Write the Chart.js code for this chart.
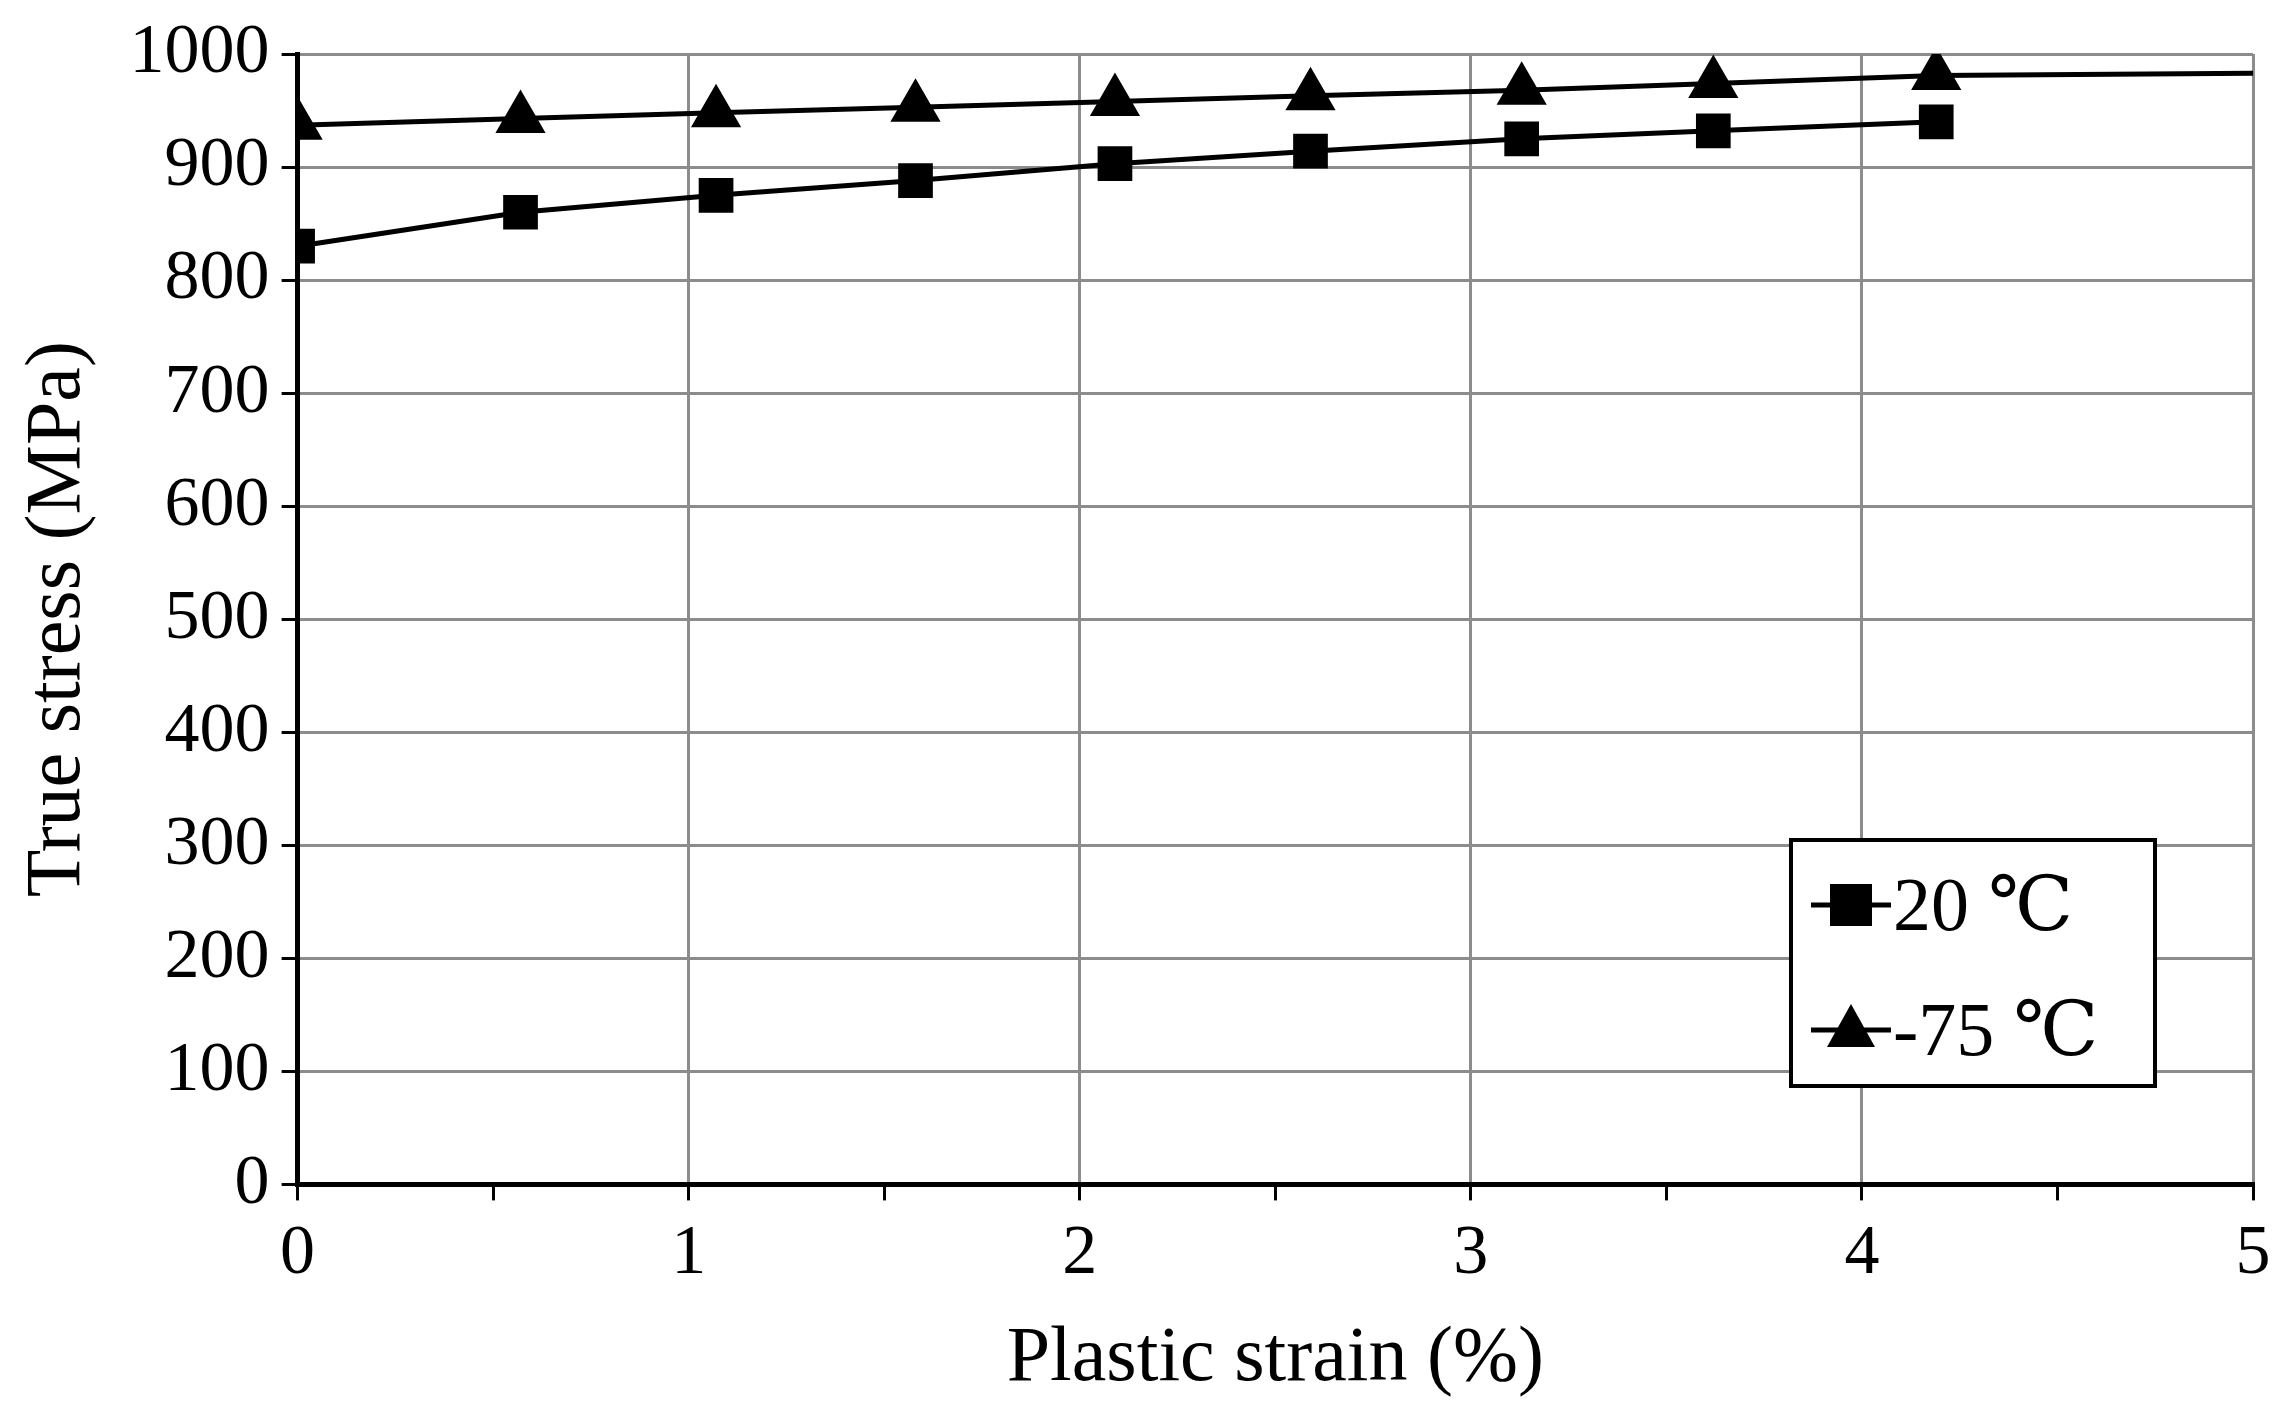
<!DOCTYPE html>
<html>
<head>
<meta charset="utf-8">
<style>
  html, body { margin: 0; padding: 0; background: #fff; }
  #wrap { width: 2283px; height: 1406px; }
</style>
<script src="https://cdn.jsdelivr.net/npm/chart.js@4/dist/chart.umd.min.js"></script>
</head>
<body>
<div id="wrap"><canvas id="myChart" width="2283" height="1406"></canvas></div>
<script>
const strain20 = [0, 0.57, 1.07, 1.58, 2.09, 2.59, 3.13, 3.62, 4.19];
const stress20 = [830, 860, 875, 888, 903, 914, 925, 932, 940];
const strain75 = [0, 0.57, 1.07, 1.58, 2.09, 2.59, 3.13, 3.62, 4.19, 5];
const stress75 = [937, 943, 948, 953, 958, 963, 968, 974, 981, 983];
const seriesLabels = ['20 \u2103', '-75 \u2103'];

const FONT = '"Liberation Serif", "DejaVu Serif", serif';

const pts = (xs, ys) => xs.map((x, i) => ({ x: x, y: ys[i] }));

const legendBox = {
    id: 'legendBox',
    afterDraw(chart) {
        const ctx = chart.ctx;
        const x0 = 1791, y0 = 840, w = 364, h = 246;
        ctx.save();
        ctx.fillStyle = '#fff';
        ctx.fillRect(x0, y0, w, h);
        ctx.strokeStyle = '#000';
        ctx.lineWidth = 4;
        ctx.strokeRect(x0, y0, w, h);
        const rows = [y0 + 65, y0 + 190];
        rows.forEach((yy, i) => {
            ctx.beginPath();
            ctx.lineWidth = 5;
            ctx.moveTo(x0 + 20, yy);
            ctx.lineTo(x0 + 100, yy);
            ctx.stroke();
            ctx.fillStyle = '#000';
            const cx = x0 + 60;
            if (i === 0) {
                ctx.fillRect(cx - 21, yy - 21, 42, 42);
            } else {
                ctx.beginPath();
                ctx.moveTo(cx, yy - 26);
                ctx.lineTo(cx + 24, yy + 17);
                ctx.lineTo(cx - 24, yy + 17);
                ctx.closePath();
                ctx.fill();
            }
            ctx.font = '76px ' + FONT;
            ctx.textBaseline = 'middle';
            ctx.fillText(seriesLabels[i], x0 + 102, yy + 5);
        });
        ctx.restore();
    }
};

const gridColor = c => (Math.abs(c.tick.value % 100) < 1e-6 ? '#8c8c8c' : 'rgba(0,0,0,0)');
const gridColorX = c => (Math.abs(c.tick.value % 1) < 1e-6 ? '#8c8c8c' : 'rgba(0,0,0,0)');

new Chart(document.getElementById('myChart'), {
    type: 'line',
    data: {
        datasets: [{
            label: seriesLabels[0],
            data: pts(strain20, stress20),
            borderColor: '#000',
            backgroundColor: '#000',
            borderWidth: 5,
            pointStyle: 'rect',
            pointRadius: 21,
            tension: 0
        }, {
            label: seriesLabels[1],
            data: pts(strain75, stress75),
            borderColor: '#000',
            backgroundColor: '#000',
            borderWidth: 5,
            pointStyle: 'triangle',
            pointRadius: strain75.map(x => (x === 5 ? 0 : 24)),
            tension: 0
        }]
    },
    options: {
        responsive: false,
        animation: false,
        layout: { padding: { left: 8, right: 30, top: 28, bottom: 0 } },
        plugins: { legend: { display: false }, tooltip: { enabled: false } },
        scales: {
            x: {
                type: 'linear',
                min: 0, max: 5,
                ticks: {
                    stepSize: 0.5,
                    color: '#000',
                    font: { family: FONT, size: 70 },
                    padding: 12,
                    maxRotation: 0,
                    callback: v => (Math.abs(v % 1) < 1e-6 ? v : '')
                },
                grid: { color: gridColorX, lineWidth: 3, tickColor: '#000', tickLength: 16, drawTicks: true },
                border: { color: '#000', width: 5 },
                title: { display: true, text: 'Plastic strain (%)', color: '#000', font: { family: FONT, size: 78 }, padding: { top: 4, bottom: 0 } }
            },
            y: {
                min: 0, max: 1000,
                ticks: {
                    stepSize: 50,
                    color: '#000',
                    font: { family: FONT, size: 70 },
                    padding: 12,
                    callback: v => (v % 100 === 0 ? v : '')
                },
                grid: { color: gridColor, lineWidth: 3, tickColor: '#000', tickLength: 16 },
                border: { color: '#000', width: 5 },
                title: { display: true, text: 'True stress (MPa)', color: '#000', font: { family: FONT, size: 78 }, padding: { bottom: 12 } }
            }
        }
    },
    plugins: [legendBox]
});
</script>
</body>
</html>
